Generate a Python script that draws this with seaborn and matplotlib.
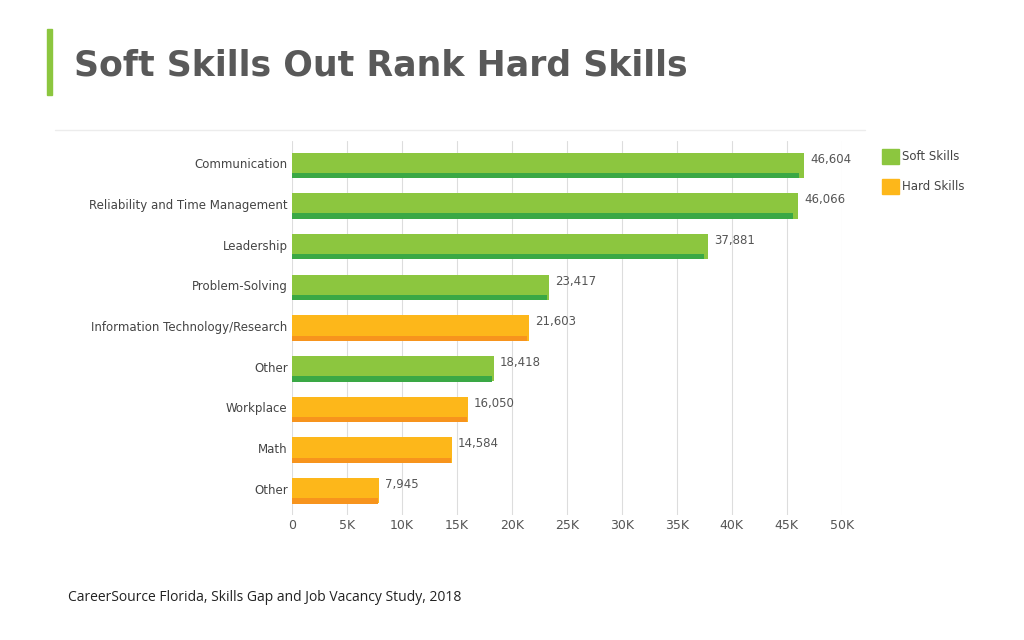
import matplotlib.pyplot as plt
import seaborn as sns
import pandas as pd

# data
skills = ['Communication', 'Reliability and Time Management', 'Leadership',
          'Problem-Solving', 'Information Technology/Research', 'Other',
          'Workplace', 'Math', 'Other ']
counts = [46604, 46066, 37881, 23417, 21603, 18418, 16050, 14584, 7945]
kinds = ['Soft Skills', 'Soft Skills', 'Soft Skills', 'Soft Skills', 'Hard Skills',
         'Soft Skills', 'Hard Skills', 'Hard Skills', 'Hard Skills']
xticks = [0, 5000, 10000, 15000, 20000, 25000, 30000, 35000, 40000, 45000, 50000]
xtick_labels = ['0', '5K', '10K', '15K', '20K', '25K', '30K', '35K', '40K', '45K', '50K']

top = {'Soft Skills': '#8cc63f', 'Hard Skills': '#fdb71a'}
dark = {'Soft Skills': '#3aa845', 'Hard Skills': '#f7941d'}

df = pd.DataFrame({'skill': skills, 'count': counts, 'kind': kinds})

sns.set_style('white')
fig = plt.figure(figsize=(10.24, 6.4), dpi=100)

# title block
fig.patches.append(plt.Rectangle((0.046, 0.852), 0.005, 0.102, transform=fig.transFigure,
                                 color='#8cc63f'))
fig.text(0.072, 0.898, 'Soft Skills Out Rank Hard Skills', fontsize=25, fontweight='bold',
         color='#595959', va='center', family='Liberation Sans Narrow')
fig.add_artist(plt.Line2D([0.054, 0.845], [0.797, 0.797], color='#ececec', lw=1,
                          transform=fig.transFigure))
fig.text(0.066, 0.066, 'CareerSource Florida, Skills Gap and Job Vacancy Study, 2018',
         fontsize=10, color='#222222', family='Open Sans', va='center')

ax = fig.add_axes([0.285, 0.195, 0.537, 0.585])
sns.barplot(data=df, x='count', y='skill', hue='kind', palette=top, dodge=False,
            width=0.62, saturation=1, linewidth=0, ax=ax, legend=False, zorder=3)
# darker bottom strip for the 3D look
for i, (c, k) in enumerate(zip(counts, kinds)):
    ax.barh(i + 0.25, c * 0.99, height=0.13, color=dark[k], lw=0, zorder=4)
    ax.text(c + 500, i - 0.15, f'{c:,}', fontsize=8.5, color='#555555', va='center')

ax.set_xlim(0, 50000)
ax.set_ylim(8.6, -0.6)
ax.set_xticks(xticks)
ax.set_xticklabels(xtick_labels, fontsize=9, color='#555555')
ax.set_yticks([i - 0.05 for i in range(len(skills))])
ax.set_yticklabels([s.strip() for s in skills], fontsize=8.5, color='#444444')
ax.tick_params(length=0, pad=3)
ax.set_xlabel('')
ax.set_ylabel('')
ax.grid(axis='x', color='#dddddd', lw=0.8, zorder=0)
for s in ax.spines.values():
    s.set_visible(False)

# legend
for j, k in enumerate(['Soft Skills', 'Hard Skills']):
    y = 0.755 - j * 0.046
    fig.patches.append(plt.Rectangle((0.861, y - 0.012), 0.017, 0.024,
                                     transform=fig.transFigure, color=top[k]))
    fig.text(0.881, y, k, fontsize=8.5, color='#444444', va='center')

fig.savefig('out.png', dpi=100, facecolor='white')
